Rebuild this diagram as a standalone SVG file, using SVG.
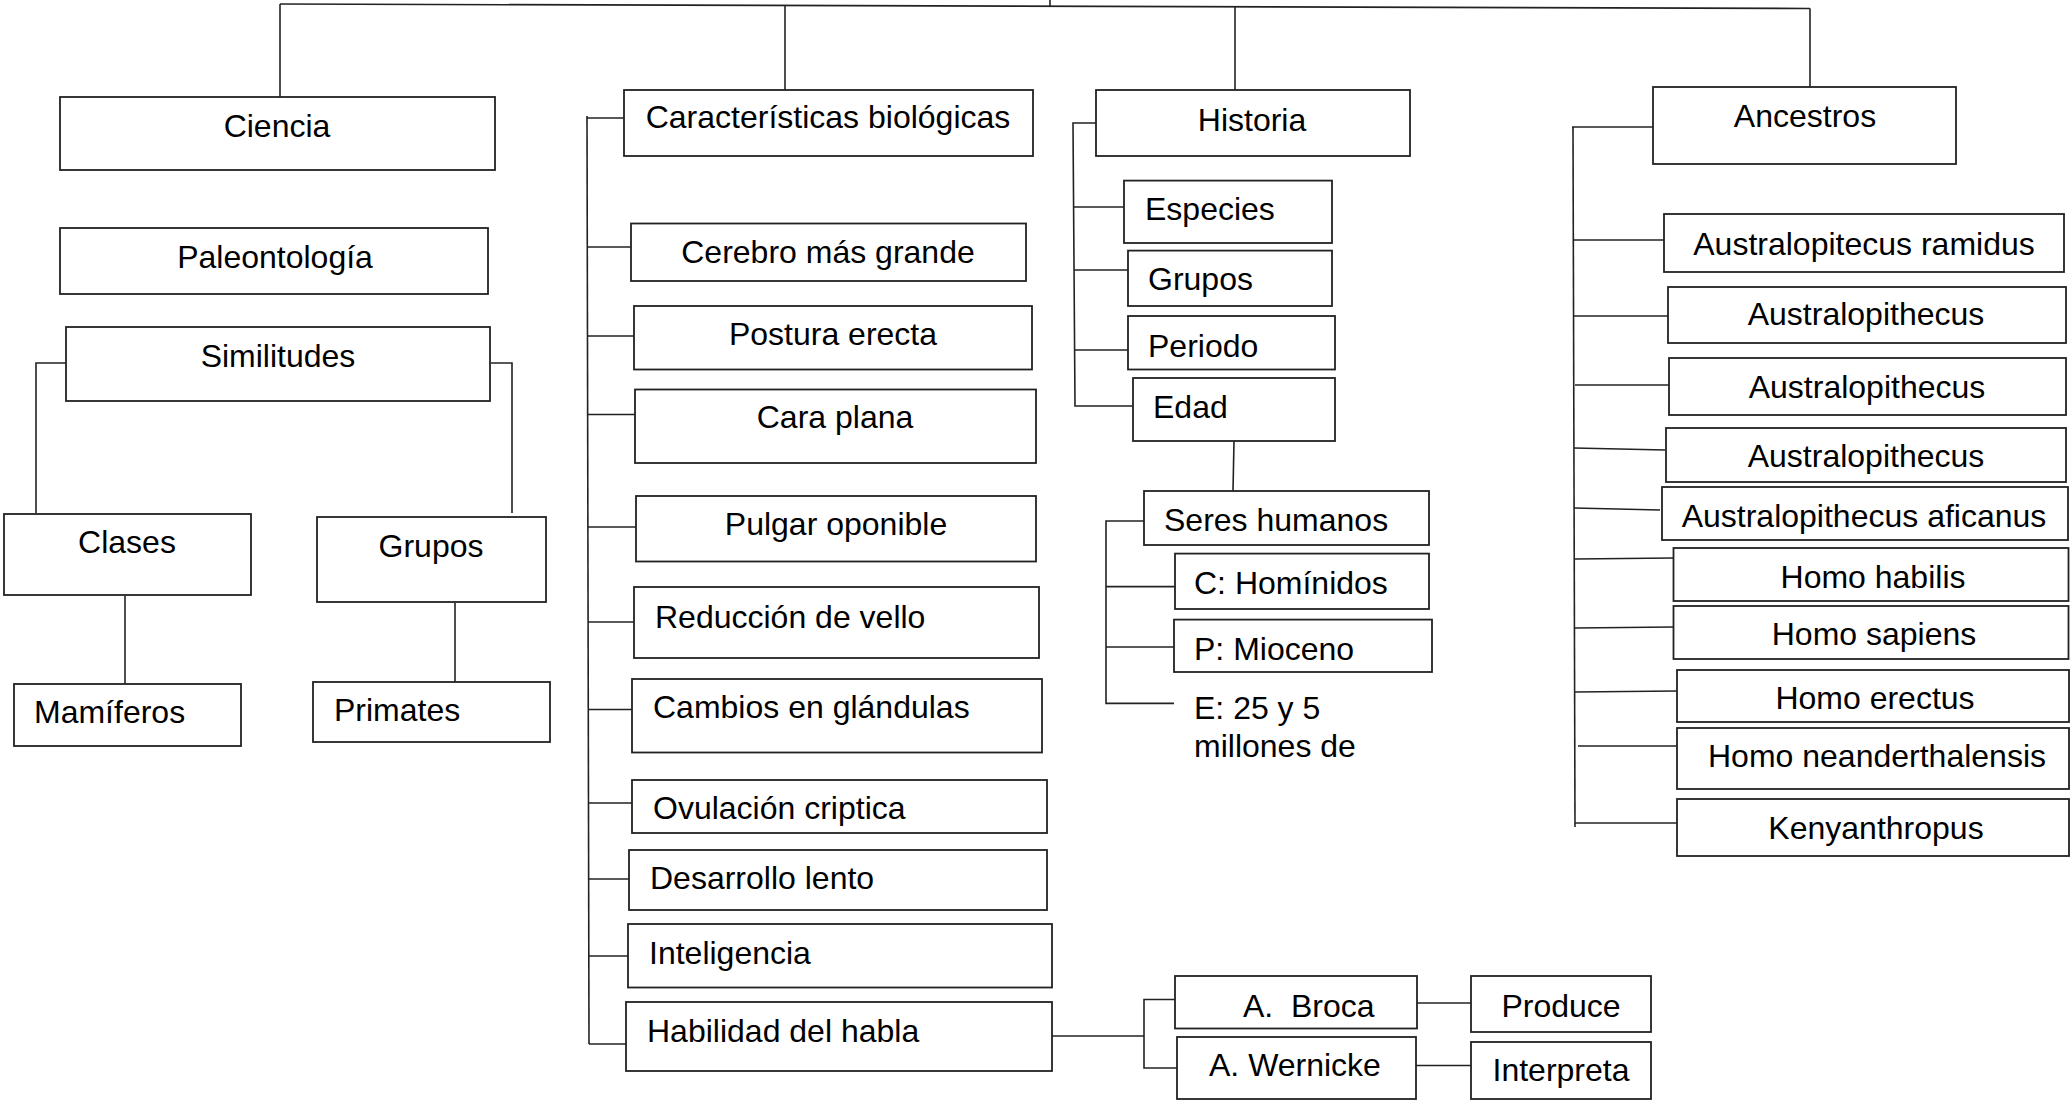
<svg xmlns="http://www.w3.org/2000/svg" width="2070" height="1102" viewBox="0 0 2070 1102">
<style>
rect{fill:#fff;stroke:#222;stroke-width:1.8}
line,polyline{stroke:#222;stroke-width:1.6;fill:none}
text{font-family:"Liberation Sans",Arial,sans-serif;font-size:32px;fill:#000}
.c{text-anchor:middle}
.pre{white-space:pre}
</style>
<rect x="0" y="0" width="2070" height="1102" style="fill:#fff;stroke:none"/>
<g id="connectors">
<line x1="280" y1="4" x2="1810" y2="8.5"/>
<line x1="1050" y1="0" x2="1050" y2="6"/>
<line x1="280" y1="4" x2="280" y2="97"/>
<line x1="785" y1="5" x2="785" y2="90"/>
<line x1="1235" y1="7" x2="1235" y2="90"/>
<line x1="1810" y1="8.5" x2="1810" y2="87"/>
<polyline points="66,363 36,363 36,513"/>
<polyline points="491,363 512,363 512,513"/>
<line x1="125" y1="596" x2="125" y2="684"/>
<line x1="455" y1="603" x2="455" y2="682"/>
<line x1="587" y1="116" x2="589" y2="1044"/>
<line x1="587" y1="118" x2="624" y2="118"/>
<line x1="587" y1="247" x2="631" y2="247"/>
<line x1="587" y1="336" x2="634" y2="336"/>
<line x1="588" y1="414.5" x2="636" y2="414.5"/>
<line x1="588" y1="527" x2="638" y2="527"/>
<line x1="588" y1="622" x2="634" y2="622"/>
<line x1="588" y1="709.5" x2="632" y2="709.5"/>
<line x1="588" y1="803" x2="632" y2="803"/>
<line x1="588" y1="879" x2="629" y2="879"/>
<line x1="589" y1="956" x2="628" y2="956"/>
<line x1="589" y1="1044" x2="626" y2="1044"/>
<line x1="1052" y1="1036" x2="1144" y2="1036"/>
<polyline points="1175,999.5 1144,999.5 1144,1068 1177,1068"/>
<line x1="1417" y1="1003" x2="1471" y2="1003"/>
<line x1="1416" y1="1065.5" x2="1471" y2="1065.5"/>
<polyline points="1096,123 1073,123 1075,406 1133,406"/>
<line x1="1073" y1="207" x2="1124" y2="207"/>
<line x1="1074" y1="270" x2="1128" y2="270"/>
<line x1="1074" y1="350" x2="1128" y2="350"/>
<line x1="1234" y1="441" x2="1233" y2="491"/>
<polyline points="1144,521 1106,521 1106,703.4 1174,703.4"/>
<line x1="1106" y1="586.6" x2="1175" y2="586.6"/>
<line x1="1106" y1="647" x2="1174" y2="647"/>
<polyline points="1655,127 1572,127"/>
<line x1="1573" y1="127" x2="1575" y2="827"/>
<line x1="1573" y1="240" x2="1664" y2="240"/>
<line x1="1573" y1="316" x2="1668" y2="316"/>
<line x1="1575" y1="385" x2="1669" y2="385"/>
<line x1="1574" y1="448" x2="1665" y2="450"/>
<line x1="1574" y1="508" x2="1660" y2="510"/>
<line x1="1575" y1="559" x2="1673" y2="558"/>
<line x1="1575" y1="628" x2="1673" y2="627"/>
<line x1="1575" y1="692" x2="1677" y2="691"/>
<line x1="1578" y1="746" x2="1677" y2="746"/>
<line x1="1575" y1="823" x2="1680" y2="823"/>
</g>
<g id="n-ciencia"><rect x="60" y="97" width="435" height="73"/><text class="c" x="277" y="137">Ciencia</text></g>
<g id="n-paleontologia"><rect x="60" y="228" width="428" height="66"/><text class="c" x="275" y="268">Paleontología</text></g>
<g id="n-similitudes"><rect x="66" y="327" width="424" height="74"/><text class="c" x="278" y="367">Similitudes</text></g>
<g id="n-clases"><rect x="4" y="514" width="247" height="81"/><text class="c" x="127" y="553">Clases</text></g>
<g id="n-grupos"><rect x="317" y="517" width="229" height="85"/><text class="c" x="431" y="557">Grupos</text></g>
<g id="n-mamiferos"><rect x="14" y="684" width="227" height="62"/><text x="34" y="723">Mamíferos</text></g>
<g id="n-primates"><rect x="313" y="682" width="237" height="60"/><text x="334" y="721">Primates</text></g>
<g id="n-caracteristicas"><rect x="624" y="90" width="409" height="66"/><text class="c" x="828" y="128">Características biológicas</text></g>
<g id="n-cerebro"><rect x="631" y="223.5" width="395" height="57.5"/><text class="c" x="828" y="263">Cerebro más grande</text></g>
<g id="n-postura"><rect x="634" y="306" width="398" height="63.5"/><text class="c" x="833" y="345">Postura erecta</text></g>
<g id="n-cara"><rect x="635" y="389.5" width="401" height="73.5"/><text class="c" x="835" y="428">Cara plana</text></g>
<g id="n-pulgar"><rect x="636" y="496" width="400" height="65.5"/><text class="c" x="836" y="535">Pulgar oponible</text></g>
<g id="n-reduccion"><rect x="634" y="587" width="405" height="71"/><text x="655" y="628">Reducción de vello</text></g>
<g id="n-cambios"><rect x="632" y="679" width="410" height="73.5"/><text x="653" y="718">Cambios en glándulas</text></g>
<g id="n-ovulacion"><rect x="632" y="780" width="415" height="53"/><text x="653" y="819">Ovulación criptica</text></g>
<g id="n-desarrollo"><rect x="629" y="850" width="418" height="60"/><text x="650" y="889">Desarrollo lento</text></g>
<g id="n-inteligencia"><rect x="628" y="924" width="424" height="63.5"/><text x="649" y="964">Inteligencia</text></g>
<g id="n-habla"><rect x="626" y="1002" width="426" height="69"/><text x="647" y="1042">Habilidad del habla</text></g>
<g id="n-broca"><rect x="1175" y="976" width="242" height="52.5"/><text class="pre" x="1243" y="1017">A.  Broca</text></g>
<g id="n-wernicke"><rect x="1177" y="1037" width="239" height="62"/><text x="1209" y="1076">A. Wernicke</text></g>
<g id="n-produce"><rect x="1471" y="976" width="180" height="56"/><text class="c" x="1561" y="1017">Produce</text></g>
<g id="n-interpreta"><rect x="1471" y="1042" width="180" height="57"/><text class="c" x="1561" y="1081">Interpreta</text></g>
<g id="n-historia"><rect x="1096" y="90" width="314" height="66"/><text class="c" x="1252" y="131">Historia</text></g>
<g id="n-especies"><rect x="1124" y="180.6" width="208" height="62.4"/><text x="1145" y="219.5">Especies</text></g>
<g id="n-grupos-h"><rect x="1128" y="250.6" width="204" height="55.4"/><text x="1148" y="290">Grupos</text></g>
<g id="n-periodo"><rect x="1128" y="316" width="207" height="53.5"/><text x="1148" y="357">Periodo</text></g>
<g id="n-edad"><rect x="1133" y="378" width="202" height="63"/><text x="1153" y="418">Edad</text></g>
<g id="n-seres"><rect x="1144" y="491" width="285" height="54"/><text x="1164" y="531">Seres humanos</text></g>
<g id="n-hominidos"><rect x="1175" y="553.6" width="254" height="55.4"/><text x="1194" y="594">C: Homínidos</text></g>
<g id="n-mioceno"><rect x="1174" y="619.6" width="258" height="52.4"/><text x="1194" y="660">P: Mioceno</text></g>
<g id="n-edad-e"><text x="1194" y="718.5">E: 25 y 5</text><text x="1194" y="757">millones de</text></g>
<g id="n-ancestros"><rect x="1653" y="87" width="303" height="77"/><text class="c" x="1805" y="127">Ancestros</text></g>
<g id="n-ramidus"><rect x="1664" y="214" width="400" height="58"/><text class="c" x="1864" y="255">Australopitecus ramidus</text></g>
<g id="n-australo1"><rect x="1668" y="287" width="398" height="56"/><text class="c" x="1866" y="325">Australopithecus</text></g>
<g id="n-australo2"><rect x="1669" y="358" width="397" height="57"/><text class="c" x="1867" y="398">Australopithecus</text></g>
<g id="n-australo3"><rect x="1666" y="428" width="400" height="54"/><text class="c" x="1866" y="467">Australopithecus</text></g>
<g id="n-africanus"><rect x="1662" y="487" width="406" height="53"/><text class="c" x="1864" y="527">Australopithecus aficanus</text></g>
<g id="n-habilis"><rect x="1673.5" y="548" width="395" height="53"/><text class="c" x="1873" y="588">Homo habilis</text></g>
<g id="n-sapiens"><rect x="1673.5" y="606" width="395" height="53"/><text class="c" x="1874" y="645">Homo sapiens</text></g>
<g id="n-erectus"><rect x="1677" y="670" width="392" height="52"/><text class="c" x="1875" y="709">Homo erectus</text></g>
<g id="n-neander"><rect x="1677" y="728" width="392" height="61"/><text class="c" x="1877" y="767">Homo neanderthalensis</text></g>
<g id="n-kenyan"><rect x="1677" y="799" width="392" height="57"/><text class="c" x="1876" y="839">Kenyanthropus</text></g>
</svg>
